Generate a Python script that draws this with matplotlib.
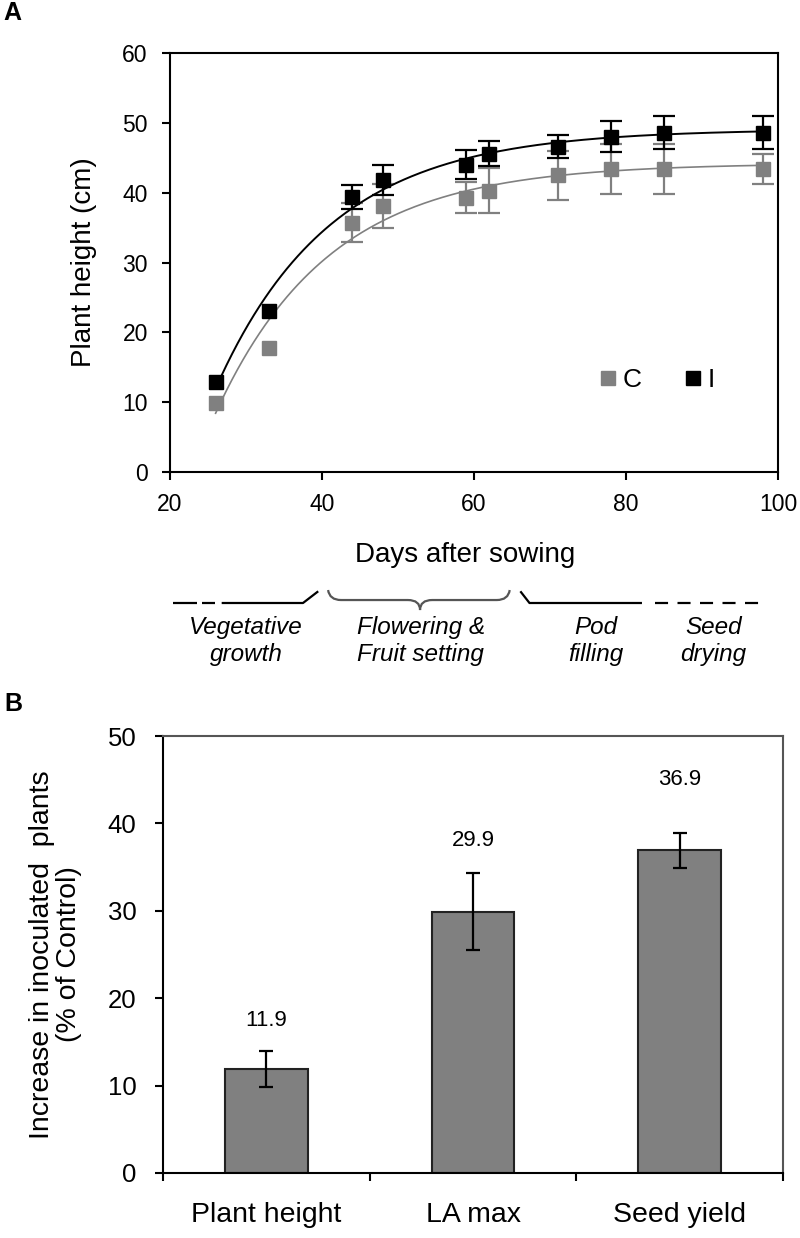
import numpy as np
import matplotlib.pyplot as plt
from matplotlib.path import Path
from matplotlib.patches import PathPatch

plt.rcParams['font.family'] = ['Liberation Sans', 'DejaVu Sans']
plt.rcParams['lines.scale_dashes'] = False

# Panel A: plant height over time (C = control, I = inoculated)
days = np.array([26, 33, 44, 48, 59, 62, 71, 78, 85, 98])
height_c = np.array([9.9, 17.8, 35.7, 38.1, 39.3, 40.3, 42.5, 43.4, 43.4, 43.4])
err_c = np.array([0.0, 0.0, 2.8, 3.1, 2.2, 3.2, 3.5, 3.6, 3.6, 2.1])
height_i = np.array([12.9, 23.1, 39.4, 41.8, 44.0, 45.6, 46.6, 48.0, 48.6, 48.6])
err_i = np.array([0.0, 0.0, 1.7, 2.2, 2.1, 1.8, 1.6, 2.2, 2.4, 2.4])

# growth phases under the time axis
phase_labels = ["Vegetative\ngrowth", "Flowering &\nFruit setting", "Pod\nfilling", "Seed\ndrying"]
phase_centers = [30.0, 53.0, 76.0, 91.5]

# Panel B: increase in inoculated plants
bar_labels = ["Plant height", "LA max", "Seed yield"]
increase = [11.9, 29.9, 36.9]
increase_err = [2.1, 4.4, 2.05]

GRAY = '#808080'


def fit_saturating(x, y):
    # least squares fit of y = a - b*exp(-k*x), k by grid search
    best = None
    for k in np.linspace(0.01, 0.2, 600):
        A = np.column_stack([np.ones_like(x, dtype=float), -np.exp(-k * x)])
        coef = np.linalg.lstsq(A, y, rcond=None)[0]
        sse = np.sum((A @ coef - y) ** 2)
        if best is None or sse < best[0]:
            best = (sse, coef[0], coef[1], k)
    _, a, b, k = best
    return lambda t: a - b * np.exp(-k * t)


fig = plt.figure(figsize=(8, 12.38), dpi=100)

# ---------------- Panel A ----------------
ax1 = fig.add_axes([170 / 800, 1 - 472 / 1238, 608 / 800, 419 / 1238])
t = np.linspace(days[0], days[-1], 300)
fit_c = fit_saturating(days, height_c)
fit_i = fit_saturating(days, height_i)

mc = err_c > 0
mi = err_i > 0

ax1.plot(t, fit_c(t), color=GRAY, lw=1.2, zorder=2)
ax1.errorbar(days[mc], height_c[mc], yerr=err_c[mc], fmt='none', ecolor=GRAY,
             elinewidth=1.6, capsize=8, capthick=1.6, zorder=3)
ax1.plot(days, height_c, 's', color=GRAY, ms=9.5, ls='none', zorder=4, label='C')

ax1.plot(t, fit_i(t), color='black', lw=1.4, zorder=5)
ax1.errorbar(days[mi], height_i[mi], yerr=err_i[mi], fmt='none', ecolor='black',
             elinewidth=1.6, capsize=8, capthick=1.6, zorder=6)
ax1.plot(days, height_i, 's', color='black', ms=9.5, ls='none', zorder=7, label='I')

ax1.set_xlim(20, 100)
ax1.set_ylim(0, 60)
ax1.set_xticks(np.arange(20, 101, 20))
ax1.set_yticks(np.arange(0, 61, 10))
ax1.tick_params(axis='both', direction='out', length=6, width=1.5, labelsize=16.5)
ax1.tick_params(axis='x', pad=9)
ax1.tick_params(axis='y', pad=10)
for s in ax1.spines.values():
    s.set_linewidth(1.5)
    s.set_color('black')

ax1.set_xlabel('Days after sowing', fontsize=20)
ax1.xaxis.set_label_coords(0.485, -0.167)
ax1.set_ylabel('Plant height (cm)', fontsize=20)
ax1.yaxis.set_label_coords(-0.12, 0.5)

ax1.legend(loc='center', bbox_to_anchor=(0.80, 0.22), ncol=2, frameon=False,
           fontsize=19, handlelength=0.7, handletextpad=0.2, columnspacing=1.6,
           markerscale=1.1)

# phase annotations below panel A
axp = fig.add_axes([170 / 800, 1 - 675 / 1238, 608 / 800, 90 / 1238])
axp.set_xlim(20, 100)
axp.set_ylim(0, 1)
axp.axis('off')

lk = dict(color='black', lw=1.6, solid_capstyle='butt')
axp.plot([20.4, 23.6], [0.8, 0.8], **lk)
axp.plot([24.2, 25.9], [0.8, 0.8], **lk)
axp.plot([26.8, 37.5, 39.5], [0.8, 0.8, 0.93], **lk)

brace = Path(
    [(40.8, 0.944), (41.0, 0.833), (42.5, 0.833), (51.3, 0.833),
     (52.9, 0.833), (52.9, 0.722), (52.9, 0.833), (54.5, 0.833),
     (63.0, 0.833), (64.5, 0.833), (64.7, 0.944)],
    [Path.MOVETO, Path.CURVE3, Path.CURVE3, Path.LINETO,
     Path.CURVE3, Path.CURVE3, Path.CURVE3, Path.CURVE3,
     Path.LINETO, Path.CURVE3, Path.CURVE3])
axp.add_patch(PathPatch(brace, fill=False, edgecolor='#555555', lw=1.6))

axp.plot([66.1, 67.3, 82.1], [0.93, 0.8, 0.8], **lk)
axp.plot([83.8, 98.6], [0.8, 0.8], color='black', lw=1.6, ls=(0, (9.4, 6.8)))

for lab, cx in zip(phase_labels, phase_centers):
    axp.text(cx, 0.38, lab, ha='center', va='center', fontsize=17.5,
             style='italic', linespacing=1.25)

# ---------------- Panel B ----------------
ax2 = fig.add_axes([163 / 800, 1 - 1173 / 1238, 620 / 800, 437 / 1238])
xpos = np.arange(len(bar_labels)) + 0.5
ax2.bar(xpos, increase, width=0.40, color=GRAY, edgecolor='#222222', lw=1.5, zorder=2)
ax2.errorbar(xpos, increase, yerr=increase_err, fmt='none', ecolor='black',
             elinewidth=1.6, capsize=5, capthick=1.6, zorder=3)

label_offsets = [3.4, 3.7, 6.1]
for x, v, e, off in zip(xpos, increase, increase_err, label_offsets):
    ax2.text(x, v + e + off, f'{v:.1f}', ha='center', va='center', fontsize=16)

ax2.set_xlim(0, 3)
ax2.set_ylim(0, 50)
ax2.set_yticks(np.arange(0, 51, 10))
ax2.set_xticks([0, 1, 2, 3])
ax2.set_xticklabels([])
ax2.set_xticks(xpos, minor=True)
ax2.set_xticklabels(bar_labels, minor=True, fontsize=20.5)
ax2.tick_params(axis='both', which='major', direction='out', length=6, width=1.5)
ax2.tick_params(axis='y', labelsize=18.5, pad=13)
ax2.tick_params(axis='x', which='minor', length=0, pad=21)
ax2.spines['left'].set_color('black')
ax2.spines['bottom'].set_color('black')
ax2.spines['top'].set_color('#555555')
ax2.spines['right'].set_color('#555555')
for s in ax2.spines.values():
    s.set_linewidth(1.5)

ax2.set_ylabel('Increase in inoculated  plants\n(% of Control)', fontsize=20.5,
               linespacing=1.05)
ax2.yaxis.set_label_coords(-0.131, 0.5)

# panel letters
fig.text(0.004, 0.999, 'A', fontsize=18, fontweight='bold', va='top')
fig.text(0.005, 1 - 692 / 1238, 'B', fontsize=18, fontweight='bold', va='top')

fig.savefig('out.png', dpi=100)
